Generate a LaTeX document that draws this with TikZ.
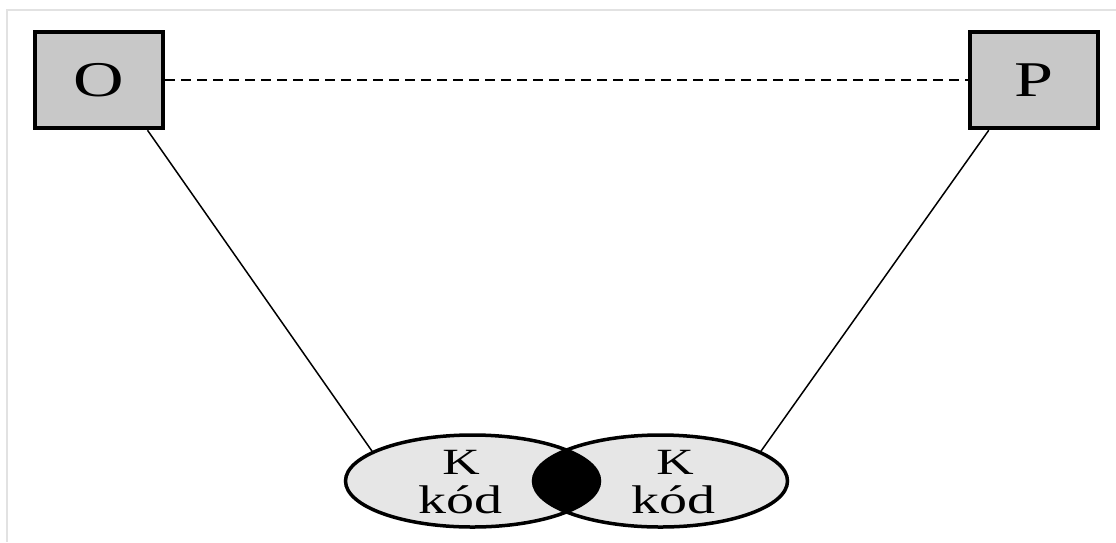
\documentclass[tikz,border=0pt]{standalone}
\usepackage{fontspec}
\setmainfont{Liberation Serif}
\usetikzlibrary{shapes.geometric}
\definecolor{boxgray}{RGB}{200,200,200}
\definecolor{lensgray}{RGB}{230,230,230}
\definecolor{framegray}{RGB}{226,226,226}
\newcommand{\wide}[2]{\scalebox{1.4}[1]{\fontsize{#1}{#1}\selectfont #2}}
\tikzset{
  box/.style={draw, line width=4.5pt, fill=boxgray, minimum width=128pt, minimum height=96pt, inner sep=0pt},
  lens/.style={ellipse, fill=lensgray, minimum width=254pt, minimum height=92pt, inner sep=0pt, outer sep=0pt},
  lensline/.style={line width=3.5pt},
  lbl/.style={inner sep=0pt, anchor=base},
  link/.style={line width=1.5pt},
  dashline/.style={line width=1.8pt, dash pattern=on 10pt off 6pt}
}
\begin{document}
\begin{tikzpicture}[x=1pt,y=-1pt]
\useasboundingbox (0,0) rectangle (1116,542);
\fill[white] (0,0) rectangle (1116,542);
\draw[framegray, line width=2pt] (7,542) -- (7,10) -- (1116,10);
% boxes
\node[box] (O) at (99,80) {\wide{50}{O}};
\node[box] (P) at (1034,80) {\wide{50}{P}};
\draw[dashline] (O.east) -- (P.west);
% lenses
\node[lens] (L) at (472.5,481) {};
\node[lens] (R) at (660.5,481) {};
\begin{scope}
  \clip (L.center) ellipse [x radius=127pt, y radius=46pt];
  \fill[black] (R.center) ellipse [x radius=127pt, y radius=46pt];
\end{scope}
\draw[lensline] (L.center) ellipse [x radius=127pt, y radius=46pt];
\draw[lensline] (R.center) ellipse [x radius=127pt, y radius=46pt];
% connectors
\draw[link] (O.-46) -- (L.164.5);
\draw[link] (P.-132.5) -- (R.16);
% labels
\node[lbl] (k1) at (461,474) {\wide{37}{K}};
\node[lbl] (c1) at (460,513) {\wide{40}{kód}};
\node[lbl] (k2) at (675,474) {\wide{37}{K}};
\node[lbl] (c2) at (673,513) {\wide{40}{kód}};
\end{tikzpicture}
\end{document}
